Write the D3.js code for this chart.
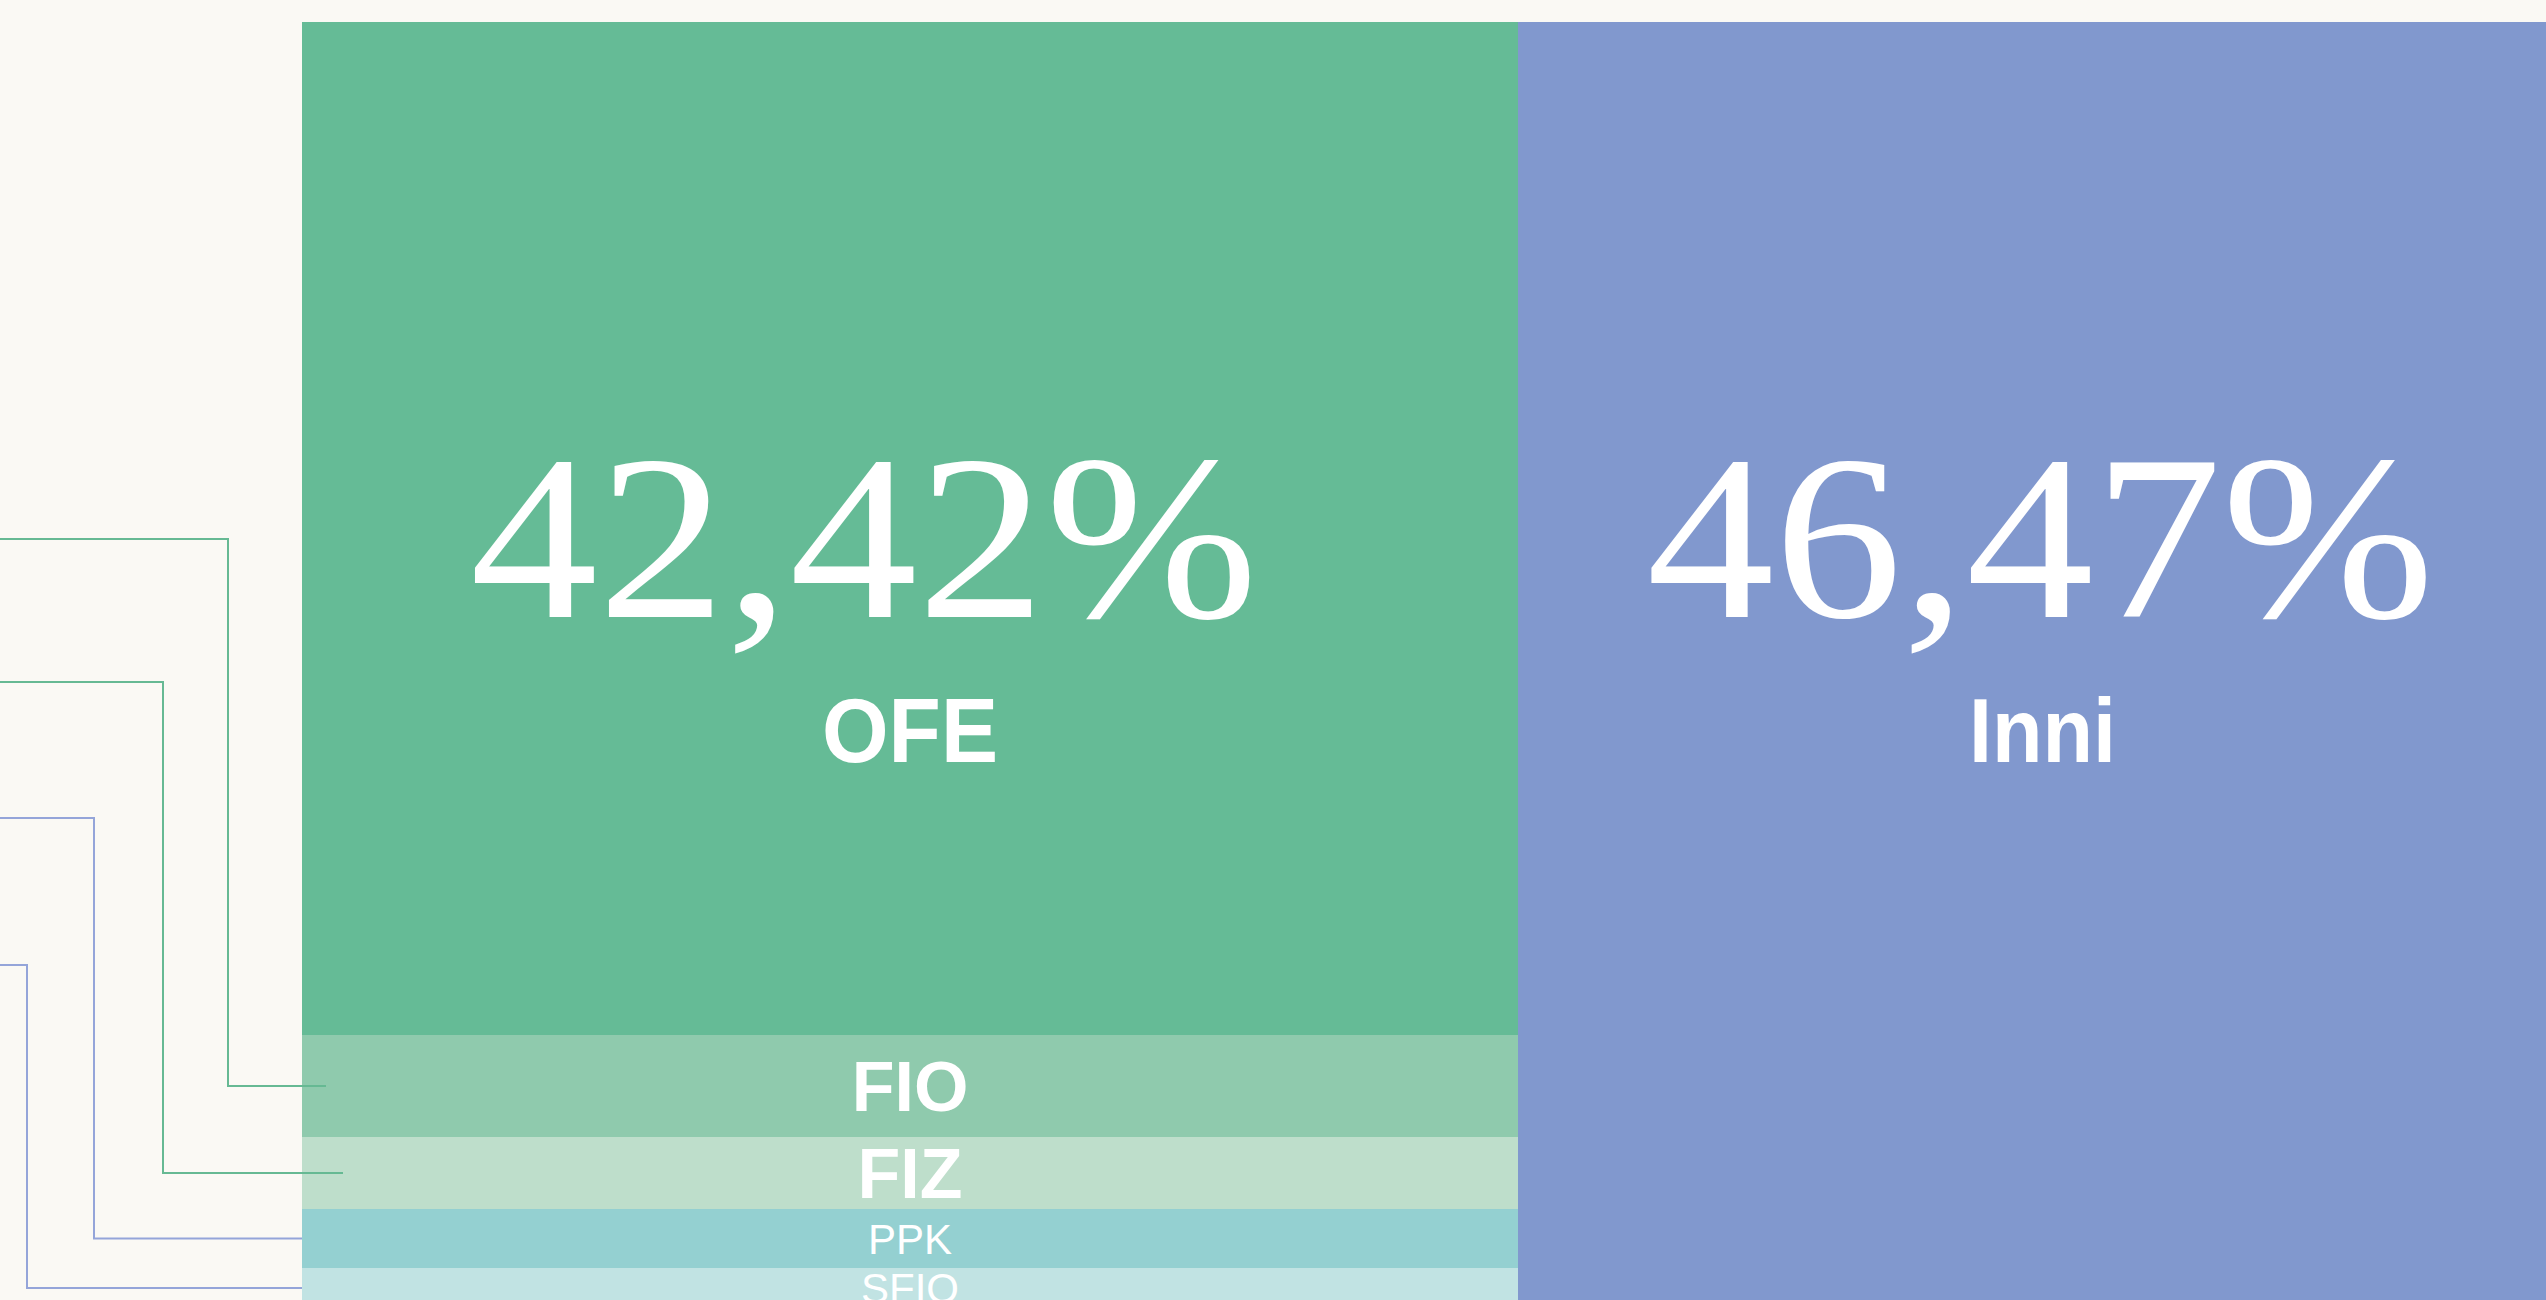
<!DOCTYPE html>
<html>
<head>
<meta charset="utf-8">
<script src="https://cdn.jsdelivr.net/npm/d3@7"></script>
<style>
    html, body { margin: 0; padding: 0; background: #faf9f4; overflow: hidden; }
    #treemap-area svg { display: block; }
    .value-label { font-family: "Liberation Serif", serif; fill: #fff; }
    .name-label { font-family: "Liberation Sans", Arial, sans-serif; fill: #fff; }
    .callout { fill: none; stroke-width: 2; }
</style>
</head>
<body>
<div id="treemap-area"></div>
<script>

// Data
var categories = ["OFE", "FIO", "FIZ", "PPK", "SFIO", "Inni"];
var shares     = [42.42, 4.27, 3.02, 2.47, 1.68, 46.47];
var groups     = ["krajowe", "krajowe", "krajowe", "krajowe", "krajowe", "inne"];
var showValue  = ["OFE", "Inni"];
var callouts   = ["FIO", "FIZ", "PPK", "SFIO"];

var colors = {
    OFE: "#65bb96", FIO: "#8fcaad", FIZ: "#bedecb",
    PPK: "#94d0d1", SFIO: "#c1e3e3", Inni: "#8198ce"
};


/*
 *  PortfolioTreemap - Object constructor function
 *  @param _parentElement   -- HTML element in which to draw the visualization
 */

PortfolioTreemap = function(_parentElement) {
    this.parentElement = _parentElement;
    this.initVis();
};


/*
 *  Initialize visualization
 */

PortfolioTreemap.prototype.initVis = function() {
    var vis = this;

    vis.margin = { top: 22, left: 302 };
    vis.width = 2265;
    vis.height = 1286;

    vis.svg = d3.select("#" + vis.parentElement).append("svg")
        .attr("width", 2546)
        .attr("height", 1300);

    vis.g = vis.svg.append("g")
        .attr("transform", "translate(" + vis.margin.left + "," + vis.margin.top + ")");

    vis.treemap = d3.treemap()
        .tile(d3.treemapSliceDice)
        .size([vis.width, vis.height])
        .round(true);

    vis.wrangleData();
};


/*
 *  Data wrangling
 */

PortfolioTreemap.prototype.wrangleData = function() {
    var vis = this;

    var rows = categories.map(function(c, i) {
        return { name: c, value: shares[i], group: groups[i] };
    });

    var nested = d3.group(rows, function(d) { return d.group; });
    vis.root = d3.hierarchy(nested)
        .sum(function(d) { return d.value; });

    vis.treemap(vis.root);
    vis.leaves = vis.root.leaves();

    vis.updateVis();
};


/*
 *  The drawing function
 */

PortfolioTreemap.prototype.updateVis = function() {
    var vis = this;

    vis.g.selectAll(".cell")
        .data(vis.leaves)
        .enter().append("rect")
        .attr("class", "cell")
        .attr("x", function(d) { return d.x0; })
        .attr("y", function(d) { return d.y0; })
        .attr("width", function(d) { return d.x1 - d.x0; })
        .attr("height", function(d) { return d.y1 - d.y0; })
        .attr("fill", function(d) { return colors[d.data.name]; });

    // Callout lines coming in from the legend on the left (outside the crop)
    var calloutTop = [539, 682, 818, 965];
    var elbowX = [228, 163, 94, 27];
    var endX = [326, 343, 302, 302];
    var lineColor = ["#66b993", "#66b993", "#94a5d9", "#94a5d9"];

    callouts.forEach(function(name, i) {
        var node = vis.leaves.find(function(d) { return d.data.name === name; });
        var midY = vis.margin.top + (node.y0 + node.y1) / 2;
        vis.svg.append("path")
            .attr("class", "callout")
            .attr("d", d3.line()([[-10, calloutTop[i]], [elbowX[i], calloutTop[i]], [elbowX[i], midY], [endX[i], midY]]))
            .attr("stroke", lineColor[i]);
    });

    // Big values for the two main blocks
    var valueDx = { OFE: -46, Inni: -2 };
    vis.leaves.filter(function(d) { return showValue.indexOf(d.data.name) >= 0; })
        .forEach(function(d) {
            var cx = (d.x0 + d.x1) / 2;
            vis.g.append("text")
                .attr("class", "value-label")
                .attr("x", cx + valueDx[d.data.name])
                .attr("y", 617 - vis.margin.top)
                .attr("text-anchor", "middle")
                .attr("font-size", 236)
                .attr("textLength", 788)
                .attr("lengthAdjust", "spacingAndGlyphs")
                .text(d3.format(".2f")(d.data.value).replace(".", ",") + "%");

            vis.g.append("text")
                .attr("class", "name-label")
                .attr("x", cx)
                .attr("y", 762 - vis.margin.top)
                .attr("text-anchor", "middle")
                .attr("font-size", 90)
                .attr("font-weight", "bold")
                .attr("textLength", d.data.name === "OFE" ? 176 : 147)
                .attr("lengthAdjust", "spacingAndGlyphs")
                .text(d.data.name);
        });

    // Small category names
    var nameSize = { FIO: 70, FIZ: 70, PPK: 42, SFIO: 42 };
    vis.leaves.filter(function(d) { return showValue.indexOf(d.data.name) < 0; })
        .forEach(function(d) {
            vis.g.append("text")
                .attr("class", "name-label")
                .attr("x", (d.x0 + d.x1) / 2)
                .attr("y", (d.y0 + d.y1) / 2)
                .attr("dy", "0.36em")
                .attr("text-anchor", "middle")
                .attr("font-size", nameSize[d.data.name])
                .attr("font-weight", nameSize[d.data.name] > 50 ? "bold" : "normal")
                .text(d.data.name);
        });
};

var portfolio = new PortfolioTreemap("treemap-area");

</script>
</body>
</html>
